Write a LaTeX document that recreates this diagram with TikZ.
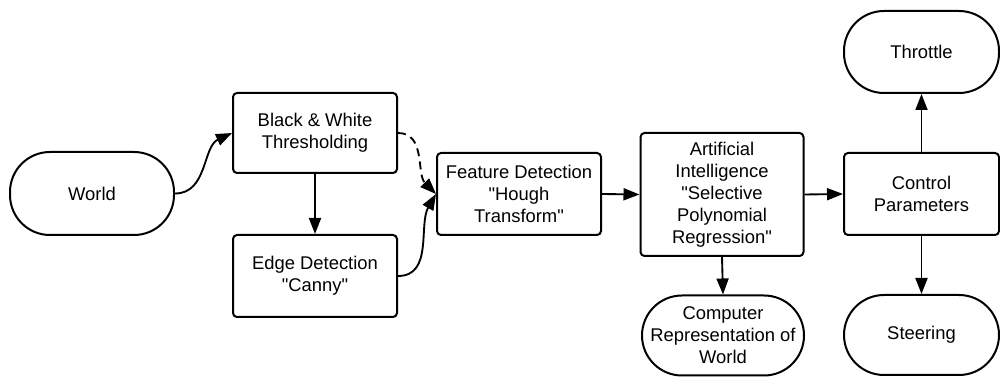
\documentclass[tikz,border=0pt]{standalone}
\usepackage{fontspec}
\setmainfont{Liberation Sans}[Ligatures=TeXOff]
\usetikzlibrary{arrows.meta}
\begin{document}
\begin{tikzpicture}[x=0.75pt,y=-0.75pt,
  base/.style={draw=black,line width=1.5pt,align=center,inner sep=0pt,
    font=\fontsize{13.8}{16.5}\selectfont,fill=white},
  box/.style={base,rounded corners=3pt},
  term/.style={base,rounded corners=30pt},
  conn/.style={line width=1.4pt,-{Triangle[length=12pt,width=9pt]}},
]
\useasboundingbox (0,0) rectangle (1000,377);
\node[term,minimum width=164*0.75pt,minimum height=83*0.75pt] (world) at (92,193.5) {World};
\node[box,minimum width=164*0.75pt,minimum height=80*0.75pt] (bw) at (315,133) {Black \& White\\Thresholding};
\node[box,minimum width=164*0.75pt,minimum height=82*0.75pt] (edge) at (315,276) {Edge Detection\\"Canny"};
\node[box,minimum width=164*0.75pt,minimum height=82*0.75pt] (feat) at (519,194) {Feature Detection\\"Hough\\Transform"};
\node[box,minimum width=163*0.75pt,minimum height=123*0.75pt] (ai) at (722,194.5) {Artificial\\Intelligence\\"Selective\\Polynomial\\Regression"};
\node[term,minimum width=162*0.75pt,minimum height=80*0.75pt] (comp) at (723,335.5) {Computer\\Representation of\\World};
\node[box,minimum width=155*0.75pt,minimum height=82*0.75pt] (ctrl) at (921.5,194) {Control\\Parameters};
\node[term,minimum width=155*0.75pt,minimum height=82*0.75pt] (thr) at (921.5,52) {Throttle};
\node[term,minimum width=155*0.75pt,minimum height=80*0.75pt] (steer) at (921.5,335) {Steering};
\draw[conn] (world.east) to[out=0,in=205] (bw.west);
\draw[conn] (bw.south) -- (edge.north);
\draw[conn,dashed,dash pattern=on 6pt off 4pt] (bw.east) to[out=0,in=135] (feat.west);
\draw[conn] (edge.east) to[out=0,in=240] (feat.west);
\draw[conn] (feat.east) -- (ai.west);
\draw[conn] (ai.south) -- (comp.north);
\draw[conn] (ai.east) -- (ctrl.west);
\draw[conn] (ctrl.north) -- (thr.south);
\draw[conn] (ctrl.south) -- (steer.north);
\end{tikzpicture}
\end{document}
